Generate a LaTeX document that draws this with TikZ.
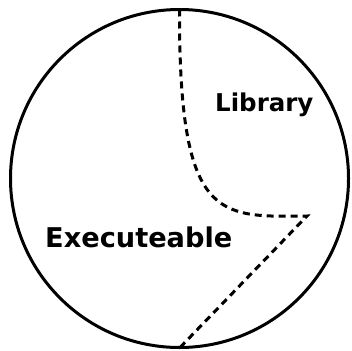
\documentclass[tikz,border=0pt]{standalone}
\usepackage{fontspec}
\setmainfont{DejaVu Sans}
\begin{document}
\begin{tikzpicture}[x=1pt,y=-1pt,
  outline/.style={line width=3pt},
  split/.style={line width=3pt, dash pattern=on 7pt off 5pt},
  lbl/.style={font=\bfseries, inner sep=0pt, anchor=base west}]
\useasboundingbox (0,0) rectangle (352,350);
\node[outline, circle, minimum size=338pt, draw, inner sep=0pt] (c) at (179.5,178.5) {};
\coordinate (top) at (179.5,9.5);
\coordinate (corner) at (307,216);
\coordinate (bot) at (180,347.5);
\draw[split] (top) .. controls (179,222) and (218,217) .. (corner) -- (bot);
\node[lbl, font=\fontsize{24.5}{28}\selectfont\bfseries] (lib) at (215,111) {Library};
\node[lbl, font=\fontsize{27.2}{31}\selectfont\bfseries] (exe) at (45,247) {Executeable};
\end{tikzpicture}
\end{document}
